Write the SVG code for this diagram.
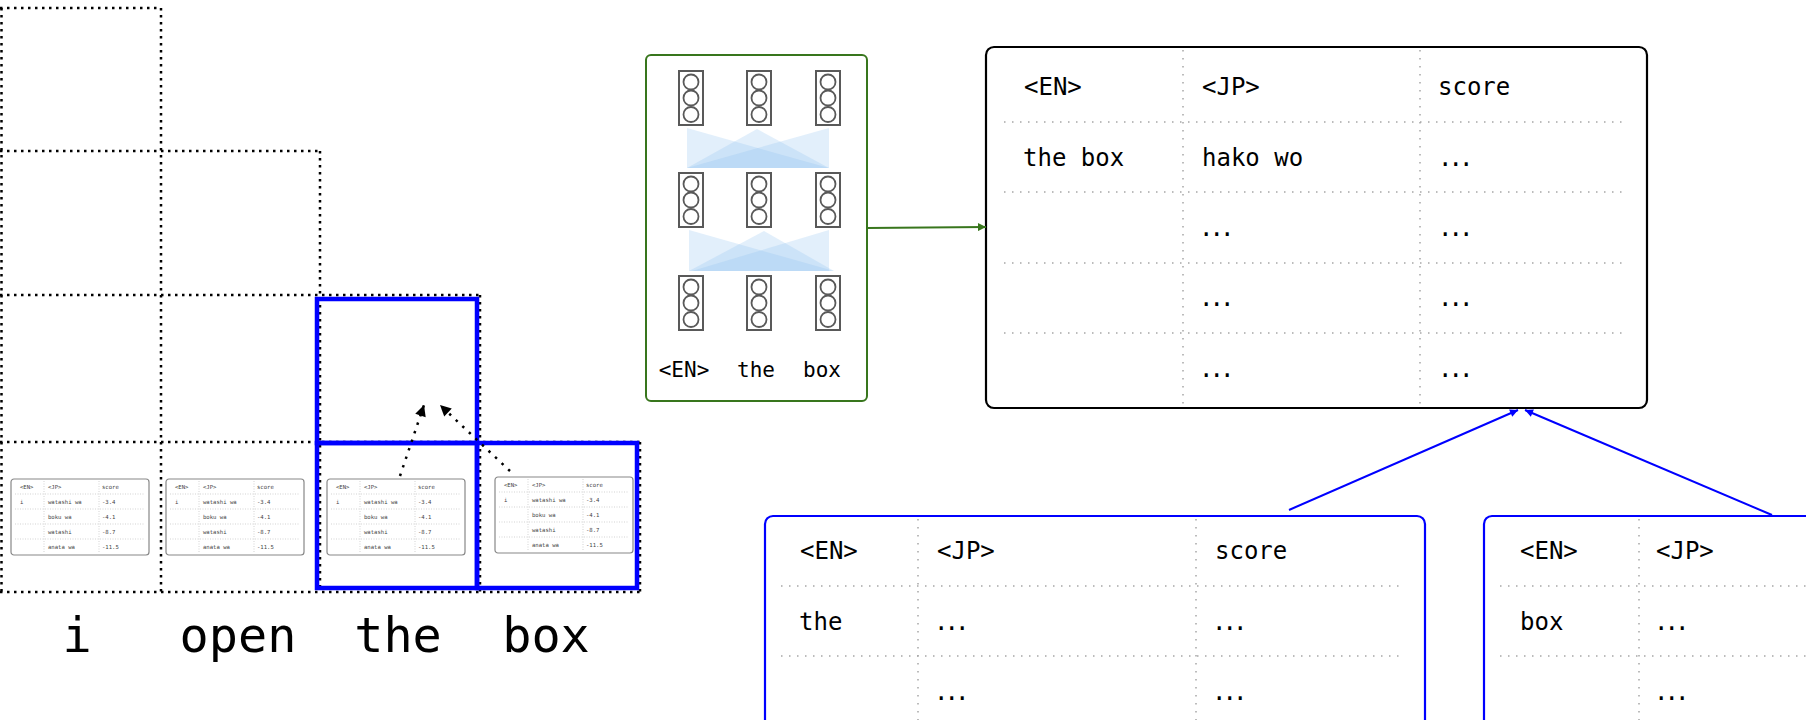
<svg xmlns="http://www.w3.org/2000/svg" xmlns:xlink="http://www.w3.org/1999/xlink" width="1806" height="720" viewBox="0 0 1806 720">
  <style>
    .grid { stroke: #000; stroke-width: 2.5; stroke-dasharray: 2.5 4.5; fill: none; }
    .span { stroke: #0000ff; stroke-width: 4.5; fill: none; }
    .mini-frame { fill: #fff; stroke: #888; stroke-width: 1.2; }
    .mini-rule { stroke: #c8c8c8; stroke-width: 0.8; stroke-dasharray: 1 1.5; }
    .mini-txt { font-family: "DejaVu Sans Mono", monospace; font-size: 5.6px; fill: #444; }
    .word { font-family: "DejaVu Sans Mono", monospace; font-size: 48.5px; fill: #000; text-anchor: middle; }
    .enc-frame { fill: #fff; stroke: #38761d; stroke-width: 2; }
    .vec rect { fill: #fff; stroke: #595959; stroke-width: 2; }
    .vec circle { fill: #fff; stroke: #595959; stroke-width: 1.8; }
    .fan { fill: #8ec2f0; fill-opacity: 0.26; stroke: none; }
    .tok { font-family: "DejaVu Sans Mono", monospace; font-size: 21px; fill: #000; text-anchor: middle; }
    .tbl-frame { fill: #fff; stroke-width: 2.2; }
    .tbl-rule { stroke: #a6a6a6; stroke-width: 1.5; stroke-dasharray: 1.5 6.5; }
    .tbl-txt { font-family: "DejaVu Sans Mono", monospace; font-size: 24px; fill: #000; }
    .dots { letter-spacing: -4px; }
    .dotted-arrow { stroke: #000; stroke-width: 2.5; stroke-dasharray: 2.5 6.5; fill: none; }
  </style>
  <defs>
    <marker id="headBlack" viewBox="0 0 10 10" refX="10" refY="5" markerWidth="13" markerHeight="11" markerUnits="userSpaceOnUse" orient="auto">
      <path d="M0,0 L10,5 L0,10 z" fill="#000"/>
    </marker>
    <marker id="headGreen" viewBox="0 0 10 10" refX="10" refY="5" markerWidth="11" markerHeight="8" markerUnits="userSpaceOnUse" orient="auto">
      <path d="M0,0 L10,5 L0,10 z" fill="#38761d"/>
    </marker>
    <marker id="headBlue" viewBox="0 0 10 10" refX="10" refY="5" markerWidth="11" markerHeight="8" markerUnits="userSpaceOnUse" orient="auto">
      <path d="M0,0 L10,5 L0,10 z" fill="#0000ff"/>
    </marker>

    <!-- small candidate table kept in each chart cell -->
    <g id="miniTable">
      <rect class="mini-frame" x="0" y="0" width="138" height="76" rx="3"/>
      <line class="mini-rule" x1="4" y1="15" x2="134" y2="15"/>
      <line class="mini-rule" x1="4" y1="30" x2="134" y2="30"/>
      <line class="mini-rule" x1="4" y1="45" x2="134" y2="45"/>
      <line class="mini-rule" x1="4" y1="60" x2="134" y2="60"/>
      <line class="mini-rule" x1="33" y1="2" x2="33" y2="74"/>
      <line class="mini-rule" x1="88" y1="2" x2="88" y2="74"/>
      <text class="mini-txt" x="9" y="10">&lt;EN&gt;</text>
      <text class="mini-txt" x="37" y="10">&lt;JP&gt;</text>
      <text class="mini-txt" x="91" y="10">score</text>
      <text class="mini-txt" x="9" y="25">i</text>
      <text class="mini-txt" x="37" y="25">watashi wa</text>
      <text class="mini-txt" x="91" y="25">-3.4</text>
      <text class="mini-txt" x="37" y="40">boku wa</text>
      <text class="mini-txt" x="91" y="40">-4.1</text>
      <text class="mini-txt" x="37" y="55">watashi</text>
      <text class="mini-txt" x="91" y="55">-8.7</text>
      <text class="mini-txt" x="37" y="70">anata wa</text>
      <text class="mini-txt" x="91" y="70">-11.5</text>
    </g>

    <!-- hidden-state vector: box with three units -->
    <g id="vector" class="vec">
      <rect x="0" y="0" width="24" height="54"/>
      <circle cx="12" cy="11" r="7.5"/>
      <circle cx="12" cy="27" r="7.5"/>
      <circle cx="12" cy="43.5" r="7.5"/>
    </g>
  </defs>

  <rect width="1806" height="720" fill="#fff"/>

  <!-- triangular chart -->
  <g id="chart">
    <line class="grid" x1="0" y1="8" x2="161" y2="8"/>
    <line class="grid" x1="0" y1="151" x2="320" y2="151"/>
    <line class="grid" x1="0" y1="295" x2="480" y2="295"/>
    <line class="grid" x1="0" y1="442" x2="640" y2="442"/>
    <line class="grid" x1="0" y1="592" x2="640" y2="592"/>
    <line class="grid" x1="1.5" y1="8" x2="1.5" y2="592"/>
    <line class="grid" x1="161" y1="8" x2="161" y2="592"/>
    <line class="grid" x1="320" y1="151" x2="320" y2="592"/>
    <line class="grid" x1="480" y1="295" x2="480" y2="592"/>
    <line class="grid" x1="640" y1="442" x2="640" y2="592"/>
  </g>

  <!-- highlighted spans -->
  <g id="spans">
    <rect class="span" x="317" y="299" width="160" height="144"/>
    <rect class="span" x="317" y="443" width="160" height="145"/>
    <rect class="span" x="477" y="443" width="160" height="145"/>
  </g>

  <!-- candidate tables per cell -->
  <g id="cell-i"><use xlink:href="#miniTable" x="11" y="479"/></g>
  <g id="cell-open"><use xlink:href="#miniTable" x="166" y="479"/></g>
  <g id="cell-the"><use xlink:href="#miniTable" x="327" y="479"/></g>
  <g id="cell-box"><use xlink:href="#miniTable" x="495" y="477"/></g>

  <!-- input words -->
  <g id="words">
    <text class="word" x="77" y="652">i</text>
    <text class="word" x="238" y="652">open</text>
    <text class="word" x="398" y="652">the</text>
    <text class="word" x="546" y="652">box</text>
  </g>

  <!-- encoder -->
  <g id="encoder">
    <rect class="enc-frame" x="646" y="55" width="221" height="346" rx="5"/>
    <polygon class="fan" points="687,128 687,168 829,168"/>
    <polygon class="fan" points="757,129 687,168 829,168"/>
    <polygon class="fan" points="829,128 829,168 687,168"/>
    <polygon class="fan" points="689,230 689,271 834,271"/>
    <polygon class="fan" points="764,231 689,271 834,271"/>
    <polygon class="fan" points="829,230 829,271 692,271"/>
    <use xlink:href="#vector" x="679" y="71"/>
    <use xlink:href="#vector" x="747" y="71"/>
    <use xlink:href="#vector" x="816" y="71"/>
    <use xlink:href="#vector" x="679" y="173"/>
    <use xlink:href="#vector" x="747" y="173"/>
    <use xlink:href="#vector" x="816" y="173"/>
    <use xlink:href="#vector" x="679" y="276"/>
    <use xlink:href="#vector" x="747" y="276"/>
    <use xlink:href="#vector" x="816" y="276"/>
    <text class="tok" x="684" y="377">&lt;EN&gt;</text>
    <text class="tok" x="756" y="377">the</text>
    <text class="tok" x="822" y="377">box</text>
  </g>

  <!-- phrase table for "the box" -->
  <g id="table-the-box">
    <rect class="tbl-frame" x="986" y="47" width="661" height="361" rx="8" stroke="#000"/>
    <line class="tbl-rule" x1="1004" y1="122" x2="1625" y2="122"/>
    <line class="tbl-rule" x1="1004" y1="192" x2="1625" y2="192"/>
    <line class="tbl-rule" x1="1004" y1="263" x2="1625" y2="263"/>
    <line class="tbl-rule" x1="1004" y1="333" x2="1625" y2="333"/>
    <line class="tbl-rule" x1="1183" y1="50" x2="1183" y2="405"/>
    <line class="tbl-rule" x1="1420" y1="50" x2="1420" y2="405"/>
    <text class="tbl-txt" x="1024" y="95">&lt;EN&gt;</text>
    <text class="tbl-txt" x="1202" y="95">&lt;JP&gt;</text>
    <text class="tbl-txt" x="1438" y="95">score</text>
    <text class="tbl-txt" x="1023" y="166">the box</text>
    <text class="tbl-txt" x="1202" y="166">hako wo</text>
    <text class="tbl-txt dots" x="1438" y="166">...</text>
    <text class="tbl-txt dots" x="1199" y="236">...</text>
    <text class="tbl-txt dots" x="1438" y="236">...</text>
    <text class="tbl-txt dots" x="1199" y="306">...</text>
    <text class="tbl-txt dots" x="1438" y="306">...</text>
    <text class="tbl-txt dots" x="1199" y="377">...</text>
    <text class="tbl-txt dots" x="1438" y="377">...</text>
  </g>

  <!-- phrase table for "the" -->
  <g id="table-the">
    <rect class="tbl-frame" x="765" y="516" width="660" height="361" rx="8" stroke="#0000ff"/>
    <line class="tbl-rule" x1="781" y1="586" x2="1401" y2="586"/>
    <line class="tbl-rule" x1="781" y1="656" x2="1401" y2="656"/>
    <line class="tbl-rule" x1="918" y1="519" x2="918" y2="720"/>
    <line class="tbl-rule" x1="1196" y1="519" x2="1196" y2="720"/>
    <text class="tbl-txt" x="800" y="559">&lt;EN&gt;</text>
    <text class="tbl-txt" x="937" y="559">&lt;JP&gt;</text>
    <text class="tbl-txt" x="1215" y="559">score</text>
    <text class="tbl-txt" x="799" y="630">the</text>
    <text class="tbl-txt dots" x="934" y="630">...</text>
    <text class="tbl-txt dots" x="1212" y="630">...</text>
    <text class="tbl-txt dots" x="934" y="700">...</text>
    <text class="tbl-txt dots" x="1212" y="700">...</text>
  </g>

  <!-- phrase table for "box" -->
  <g id="table-box">
    <rect class="tbl-frame" x="1484" y="516" width="660" height="361" rx="8" stroke="#0000ff"/>
    <line class="tbl-rule" x1="1500" y1="586" x2="1806" y2="586"/>
    <line class="tbl-rule" x1="1500" y1="656" x2="1806" y2="656"/>
    <line class="tbl-rule" x1="1639" y1="519" x2="1639" y2="720"/>
    <text class="tbl-txt" x="1520" y="559">&lt;EN&gt;</text>
    <text class="tbl-txt" x="1656" y="559">&lt;JP&gt;</text>
    <text class="tbl-txt" x="1520" y="630">box</text>
    <text class="tbl-txt dots" x="1654" y="630">...</text>
    <text class="tbl-txt dots" x="1654" y="700">...</text>
  </g>

  <!-- connectors -->
  <g id="connectors">
    <line class="dotted-arrow" x1="400" y1="476" x2="424" y2="405" marker-end="url(#headBlack)"/>
    <line class="dotted-arrow" x1="510" y1="471" x2="440" y2="405" marker-end="url(#headBlack)"/>
    <line x1="867" y1="228" x2="986" y2="227" stroke="#38761d" stroke-width="1.8" marker-end="url(#headGreen)"/>
    <line x1="1289" y1="510" x2="1518" y2="410" stroke="#0000ff" stroke-width="2" marker-end="url(#headBlue)"/>
    <line x1="1772" y1="515" x2="1525" y2="410" stroke="#0000ff" stroke-width="2" marker-end="url(#headBlue)"/>
  </g>
</svg>
